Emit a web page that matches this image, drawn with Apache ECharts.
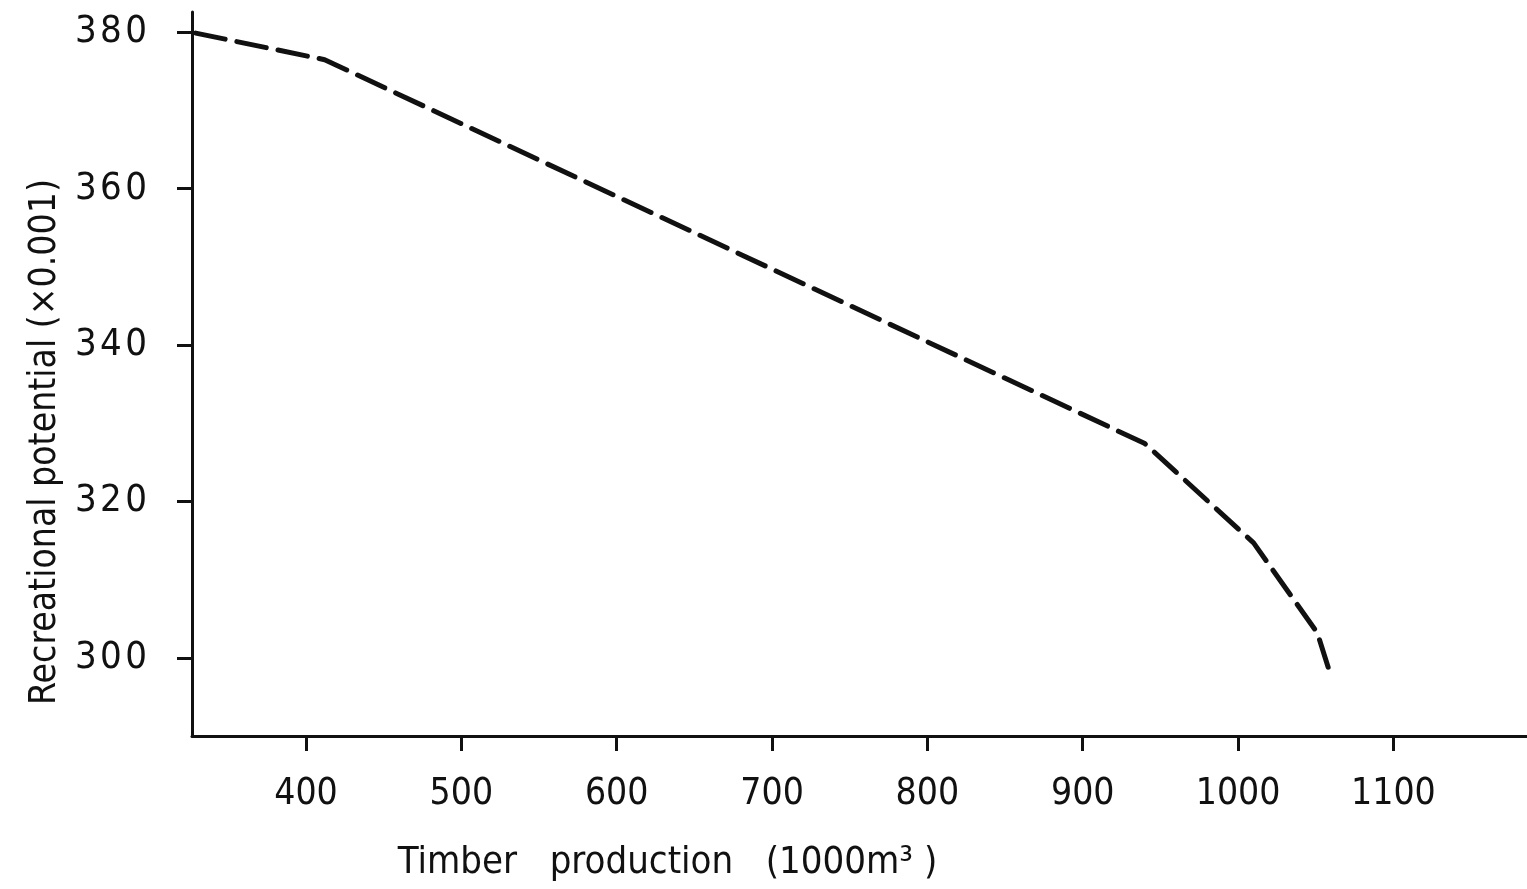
<!DOCTYPE html>
<html>
<head>
<meta charset="UTF-8">
<title>Timber production vs recreational potential</title>
<script src="https://cdn.jsdelivr.net/npm/echarts@6/dist/echarts.min.js"></script>
<style>
  html, body { margin: 0; padding: 0; background: #fff; }
  #main { width: 1527px; height: 889px; }
</style>
</head>
<body>
<div id="main"></div>
<script>
// timber production (1000 m3)
var timber = [329, 412, 940, 1010, 1051, 1058];
// recreational potential (x 0.001)
var recreation = [379.9, 376.5, 327.4, 314.7, 303.2, 298.8];
var xTicks = [400, 500, 600, 700, 800, 900, 1000, 1100];
var yTicks = [300, 320, 340, 360, 380];

var font = '"DejaVu Sans Condensed", "Liberation Sans Narrow", "DejaVu Sans", sans-serif';
var ink = '#111';

var myChart = echarts.init(document.getElementById('main'));
var points = timber.map(function (t, i) { return [t, recreation[i]]; });

var option = {
    animation: false,
    backgroundColor: '#fff',
    grid: { left: 192, right: 0, top: 12, bottom: 153 },
    xAxis: {
        type: 'value',
        min: 326.6,
        max: 1186,
        name: 'Timber   production   (1000m\u00b3 )',
        nameLocation: 'middle',
        nameGap: 108,
        nameTextStyle: { color: ink, fontFamily: font, fontSize: 38, padding: [0, 384, 0, 0] },
        axisLine: { onZero: false, lineStyle: { color: ink, width: 3 } },
        axisTick: { customValues: xTicks, length: 15, lineStyle: { color: ink, width: 3 } },
        axisLabel: {
            customValues: xTicks, margin: 40, color: ink, fontFamily: font, fontSize: 37,
            formatter: function (v) { return String(v); }
        },
        splitLine: { show: false }
    },
    yAxis: {
        type: 'value',
        min: 290,
        max: 382.6,
        name: 'Recreational potential (\u00d70.001)',
        nameLocation: 'middle',
        nameGap: 128,
        nameTextStyle: { color: ink, fontFamily: font, fontSize: 37, padding: [0, 136, 0, 0] },
        axisLine: { onZero: false, lineStyle: { color: ink, width: 3 } },
        axisTick: { customValues: yTicks, length: 15, lineStyle: { color: ink, width: 3 } },
        axisLabel: {
            customValues: yTicks, margin: 45, color: ink, fontFamily: font, fontSize: 38,
            formatter: function (v) { return String(v).split('').join('\u200a'); }
        },
        splitLine: { show: false }
    },
    series: [{
        type: 'line',
        data: points,
        showSymbol: false,
        lineStyle: { color: ink, width: 5, type: [30, 12], cap: 'round' }
    }]
};

myChart.setOption(option);
</script>
</body>
</html>
